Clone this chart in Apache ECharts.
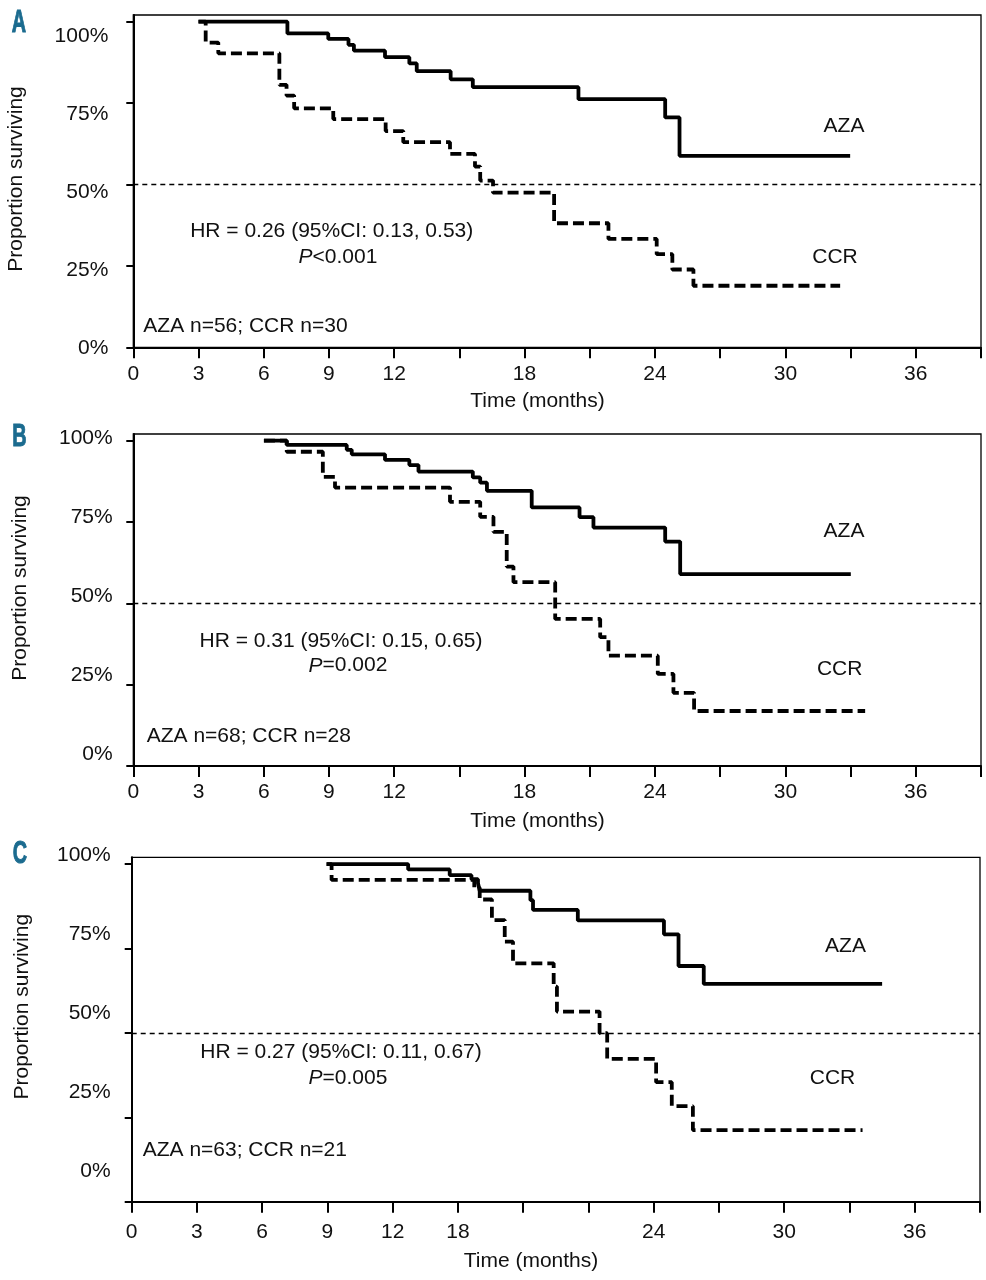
<!DOCTYPE html>
<html><head><meta charset="utf-8">
<script src="https://cdn.jsdelivr.net/npm/echarts@6/dist/echarts.min.js"></script>
<style>html,body{margin:0;padding:0;background:#fff}#c{width:986px;height:1280px}</style>
</head><body><div id="c"></div>
<script>
// ---------- DATA ----------
const panelLetters = ['A', 'B', 'C'];
const yTickValues = [0, 25, 50, 75, 100];
const xLabelPosAB = [0, 3, 6, 9, 12, 18, 24, 30, 36];
const xLabelTextAB = ['0', '3', '6', '9', '12', '18', '24', '30', '36'];
const xLabelPosC = [0, 3, 6, 9, 12, 15, 24, 30, 36];
const xLabelTextC = ['0', '3', '6', '9', '12', '18', '24', '30', '36'];
const medianLine = 50;

// Panel A
const azaTimeA = [3, 7.09, 8.97, 9.9, 10.15, 11.58, 12.7, 13.04, 14.6, 15.62, 20.48, 24.47, 25.13, 32.98];
const azaSurvA = [100, 96.4, 94.7, 92.9, 91.1, 89.1, 87.2, 84.8, 82.3, 79.9, 76.2, 70.6, 58.8, 58.8];
const ccrTimeA = [3, 3.33, 3.91, 6.72, 7.05, 7.4, 9.2, 11.61, 12.42, 14.57, 15.72, 15.96, 16.55, 19.36, 21.86, 24.08, 24.8, 25.77, 32.52];
const ccrSurvA = [100, 93.6, 90.3, 80.6, 77.3, 73.4, 70.1, 66.4, 63.0, 59.4, 55.5, 51.2, 47.5, 38.1, 33.3, 28.6, 23.9, 18.9, 18.9];
// Panel B
const azaTimeB = [6.01, 7.06, 9.82, 10.05, 11.58, 12.7, 13.12, 15.62, 15.96, 16.27, 18.33, 20.53, 21.17, 24.47, 25.16, 33.01];
const azaSurvB = [100, 98.7, 97.2, 95.8, 94.1, 92.5, 90.5, 88.7, 87.1, 84.6, 79.5, 76.5, 73.3, 69.0, 59.0, 59.0];
const ccrTimeB = [6.01, 7.06, 8.72, 9.28, 14.57, 15.96, 16.57, 17.18, 17.49, 19.41, 21.48, 21.86, 24.13, 24.85, 25.8, 33.67];
const ccrSurvB = [100, 96.6, 88.9, 85.6, 81.2, 76.6, 72.0, 61.3, 56.5, 45.2, 39.6, 33.9, 28.3, 22.5, 16.9, 16.9];
// Panel C
const azaTimeC = [8.96, 12.71, 14.62, 15.62, 15.92, 16.0, 18.33, 18.45, 20.51, 24.47, 25.14, 26.3, 34.5];
const azaSurvC = [100, 98.4, 96.7, 95.5, 94.3, 92.1, 89.3, 86.4, 83.3, 79.2, 69.8, 64.5, 64.5];
const ccrTimeC = [8.96, 9.19, 15.75, 16.0, 16.56, 17.15, 17.53, 19.4, 19.55, 21.51, 21.86, 24.11, 24.83, 25.8, 33.6];
const ccrSurvC = [100, 95.3, 93.0, 89.5, 83.4, 77.0, 70.6, 63.7, 56.3, 49.9, 42.3, 35.4, 28.3, 21.2, 21.2];

const hrTexts = ['HR = 0.26 (95%CI: 0.13, 0.53)', 'HR = 0.31 (95%CI: 0.15, 0.65)', 'HR = 0.27 (95%CI: 0.11, 0.67)'];
const pTexts = ['<0.001', '=0.002', '=0.005'];
const nTexts = ['AZA n=56; CCR n=30', 'AZA n=68; CCR n=28', 'AZA n=63; CCR n=21'];
const groupNames = ['AZA', 'CCR'];
const xAxisTitle = 'Time (months)';
const yAxisTitle = 'Proportion surviving';

// ---------- LAYOUT ----------
const FONT = "'Liberation Sans', Arial, sans-serif";
const TXT = '#111';
const layout = [
  { left: 133.3, right: 5, top: 15, height: 332.3, ymax: 102.06,
    labTop: 36.3, labH: 311.7, labMargin: 25, xMargin: 16,
    letter: [19, 23.5], yTitle: [16, 179], xTitle: [537.5, 401],
    hr: [331.7, 231], p: [338, 257.5], n: [143.3, 326], aza: [844, 126.3], ccr: [835, 257.5] },
  { left: 133.3, right: 5, top: 434, height: 332, ymax: 102.06,
    labTop: 438.3, labH: 315.7, labMargin: 20.6, xMargin: 15.5,
    letter: [19.5, 437.5], yTitle: [20, 588], xTitle: [537.5, 821],
    hr: [341, 640.8], p: [348, 665.7], n: [146.7, 736], aza: [844, 531], ccr: [839.7, 669] },
  { left: 131.7, right: 6, top: 857.3, height: 344.4, ymax: 102.0,
    labTop: 855.7, labH: 316, labMargin: 21, xMargin: 20.5,
    letter: [20, 854], yTitle: [22.5, 1006.7], xTitle: [531, 1261],
    hr: [341, 1052.3], p: [348, 1078.3], n: [142.7, 1150.5], aza: [845.5, 946.5], ccr: [832.5, 1078] }
];

const pairs = (t, s) => t.map((v, i) => [v, s[i]]);
const azaData = [pairs(azaTimeA, azaSurvA), pairs(azaTimeB, azaSurvB), pairs(azaTimeC, azaSurvC)];
const ccrData = [pairs(ccrTimeA, ccrSurvA), pairs(ccrTimeB, ccrSurvB), pairs(ccrTimeC, ccrSurvC)];
const xLabPos = [xLabelPosAB, xLabelPosAB, xLabelPosC];
const xLabText = [xLabelTextAB, xLabelTextAB, xLabelTextC];

const grid = [], xAxis = [], yAxis = [], series = [], graphic = [];
layout.forEach((L, i) => {
  // plot grid
  grid.push({ left: L.left, right: L.right, top: L.top, height: L.height, show: true,
    borderColor: '#000', borderWidth: 1.3, backgroundColor: 'transparent' });
  xAxis.push({ type: 'value', gridIndex: i, min: 0, max: 39, interval: 3,
    axisLine: { lineStyle: { color: '#000', width: 2 } },
    axisTick: { length: 11, lineStyle: { color: '#000', width: 2 } },
    splitLine: { show: false },
    axisLabel: { customValues: xLabPos[i], margin: L.xMargin, color: TXT, fontSize: 21, fontFamily: FONT,
      formatter: (v) => { const k = xLabPos[i].indexOf(v); return k >= 0 ? xLabText[i][k] : ''; } } });
  yAxis.push({ type: 'value', gridIndex: i, min: 0, max: L.ymax,
    axisLine: { show: true, lineStyle: { color: '#000', width: 2 } },
    axisTick: { show: true, customValues: yTickValues, length: 7, lineStyle: { color: '#000', width: 2 } },
    axisLabel: { show: false }, splitLine: { show: false } });
  series.push({ name: groupNames[0], type: 'line', step: 'end', symbol: 'none', xAxisIndex: i, yAxisIndex: i,
    data: azaData[i], lineStyle: { color: '#000', width: 3.8 }, silent: true, z: 3,
    markLine: { silent: true, symbol: ['none', 'none'], label: { show: false },
      lineStyle: { color: '#000', width: 1.3, type: [5, 4] }, data: [{ yAxis: medianLine }] } });
  series.push({ name: groupNames[1], type: 'line', step: 'end', symbol: 'none', xAxisIndex: i, yAxisIndex: i,
    data: ccrData[i], lineStyle: { color: '#000', width: 3.8, type: [11, 5] }, silent: true, z: 3 });

  // texts
  graphic.push({ type: 'text', x: L.letter[0], y: L.letter[1], scaleX: 0.62,
    style: { text: panelLetters[i], font: "bold 32px 'Liberation Sans', Arial, sans-serif", fill: '#1b6b8f',
      stroke: '#1b6b8f', lineWidth: 1, align: 'center', verticalAlign: 'middle' } });
  graphic.push({ type: 'text', x: L.yTitle[0], y: L.yTitle[1], rotation: Math.PI / 2,
    style: { text: yAxisTitle, font: '21px ' + FONT, fill: TXT, align: 'center', verticalAlign: 'middle' } });
  graphic.push({ type: 'text', x: L.xTitle[0], y: L.xTitle[1],
    style: { text: xAxisTitle, font: '21px ' + FONT, fill: TXT, align: 'center', verticalAlign: 'middle' } });
  graphic.push({ type: 'text', x: L.hr[0], y: L.hr[1],
    style: { text: hrTexts[i], font: '21px ' + FONT, fill: TXT, align: 'center', verticalAlign: 'middle' } });
  graphic.push({ type: 'text', x: L.p[0], y: L.p[1],
    style: { text: '{i|P}{r|' + pTexts[i] + '}', align: 'center', verticalAlign: 'middle',
      rich: { i: { font: 'italic 21px ' + FONT, fill: TXT }, r: { font: '21px ' + FONT, fill: TXT } } } });
  graphic.push({ type: 'text', x: L.n[0], y: L.n[1],
    style: { text: nTexts[i], font: '21px ' + FONT, fill: TXT, align: 'left', verticalAlign: 'middle' } });
  graphic.push({ type: 'text', x: L.aza[0], y: L.aza[1],
    style: { text: groupNames[0], font: '21px ' + FONT, fill: TXT, align: 'center', verticalAlign: 'middle' } });
  graphic.push({ type: 'text', x: L.ccr[0], y: L.ccr[1],
    style: { text: groupNames[1], font: '21px ' + FONT, fill: TXT, align: 'center', verticalAlign: 'middle' } });
});
// label-only grids for the y tick labels
layout.forEach((L, i) => {
  const gi = grid.length;
  grid.push({ left: L.left, right: L.right, top: L.labTop, height: L.labH, show: false });
  xAxis.push({ type: 'value', gridIndex: gi, min: 0, max: 39, show: false });
  yAxis.push({ type: 'value', gridIndex: gi, min: 0, max: 100,
    axisLine: { show: false }, axisTick: { show: false }, splitLine: { show: false },
    axisLabel: { customValues: yTickValues, formatter: '{value}%', margin: L.labMargin,
      color: TXT, fontSize: 21, fontFamily: FONT } });
});

const chart = echarts.init(document.getElementById('c'), null, { renderer: 'canvas' });
chart.setOption({ animation: false, backgroundColor: '#fff', grid, xAxis, yAxis, series, graphic });
</script>
</body></html>
